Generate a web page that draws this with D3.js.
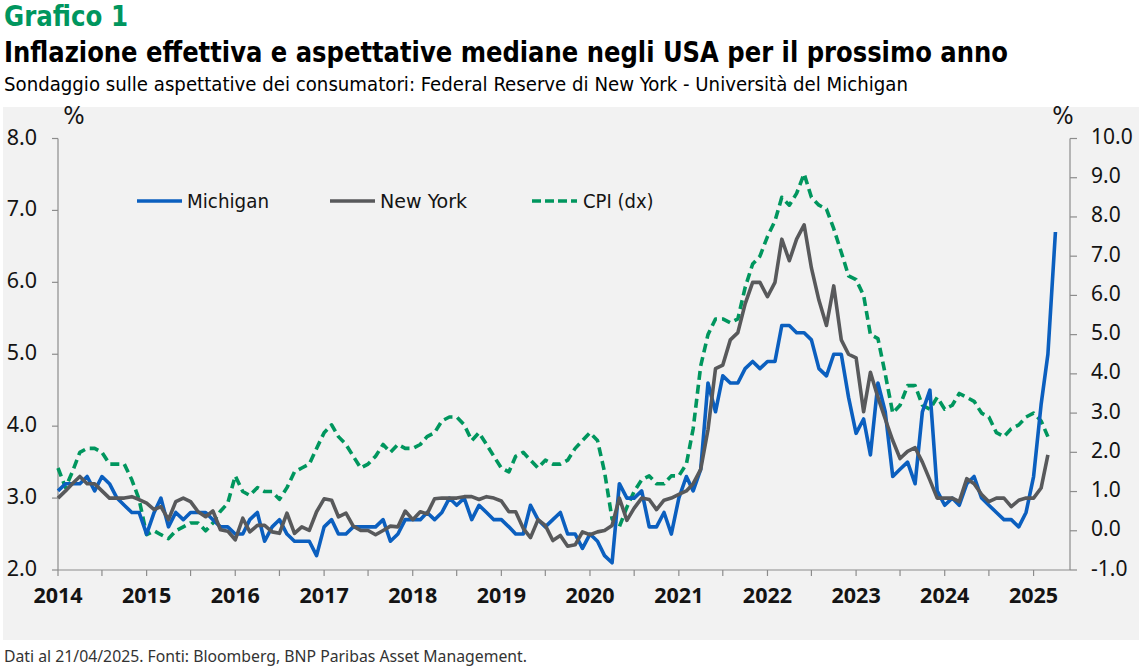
<!DOCTYPE html>
<html>
<head>
<meta charset="utf-8">
<script src="https://cdn.jsdelivr.net/npm/d3@7"></script>
<style>
  html, body { margin: 0; padding: 0; background: #fff; }
  svg { display: block; }
</style>
</head>
<body>
<svg id="chart" width="1139" height="668"></svg>
<script>
// ---- data (monthly, first value = Jan 2014) ----
const michigan = [
  3.1, 3.2, 3.2, 3.2, 3.3, 3.1, 3.3, 3.2, 3.0, 2.9, 2.8, 2.8,
  2.5, 2.8, 3.0, 2.6, 2.8, 2.7, 2.8, 2.8, 2.8, 2.7, 2.6, 2.6,
  2.5, 2.5, 2.7, 2.8, 2.4, 2.6, 2.7, 2.5, 2.4, 2.4, 2.4, 2.2,
  2.6, 2.7, 2.5, 2.5, 2.6, 2.6, 2.6, 2.6, 2.7, 2.4, 2.5, 2.7,
  2.7, 2.7, 2.8, 2.7, 2.8, 3.0, 2.9, 3.0, 2.7, 2.9, 2.8, 2.7,
  2.7, 2.6, 2.5, 2.5, 2.9, 2.7, 2.6, 2.7, 2.8, 2.5, 2.5, 2.3,
  2.5, 2.4, 2.2, 2.1, 3.2, 3.0, 3.0, 3.1, 2.6, 2.6, 2.8, 2.5,
  3.0, 3.3, 3.1, 3.4, 4.6, 4.2, 4.7, 4.6, 4.6, 4.8, 4.9, 4.8,
  4.9, 4.9, 5.4, 5.4, 5.3, 5.3, 5.2, 4.8, 4.7, 5.0, 5.0, 4.4,
  3.9, 4.1, 3.6, 4.6, 4.2, 3.3, 3.4, 3.5, 3.2, 4.2, 4.5, 3.1,
  2.9, 3.0, 2.9, 3.2, 3.3, 3.0, 2.9, 2.8, 2.7, 2.7, 2.6, 2.8,
  3.3, 4.3, 5.0, 6.7
];

const newYork = [
  3.0, 3.1, 3.2, 3.3, 3.2, 3.2, 3.1, 3.0, 3.0, 3.0, 3.02, 2.98,
  2.93, 2.84, 2.88, 2.7, 2.95, 3.0, 2.95, 2.81, 2.74, 2.82, 2.56, 2.54,
  2.42, 2.72, 2.53, 2.62, 2.62, 2.53, 2.51, 2.79, 2.51, 2.6, 2.55, 2.81,
  2.99, 2.97, 2.74, 2.79, 2.61, 2.55, 2.55, 2.49, 2.55, 2.61, 2.6, 2.82,
  2.7, 2.81, 2.78, 2.99, 3.0, 3.0, 3.0, 3.02, 3.02, 2.98, 3.02, 3.0,
  2.96, 2.81, 2.81, 2.58, 2.45, 2.7, 2.62, 2.41, 2.48, 2.33, 2.35, 2.53,
  2.49, 2.53, 2.55, 2.62, 3.0, 2.69, 2.86, 3.0, 2.98, 2.84, 2.97, 3.0,
  3.05, 3.1, 3.2, 3.4, 3.95, 4.8, 4.85, 5.2, 5.3, 5.7, 6.0, 6.0,
  5.8, 6.0, 6.6, 6.3, 6.6, 6.8, 6.2, 5.75, 5.4, 5.95, 5.2, 5.0,
  4.95, 4.2, 4.75, 4.4, 4.1, 3.8, 3.55, 3.65, 3.7, 3.5, 3.25, 3.0,
  3.0, 3.0, 2.95, 3.27, 3.2, 3.05, 2.95, 3.0, 3.0, 2.88, 2.97, 3.0,
  3.0, 3.14, 3.6
];

const cpi = [
  1.6, 1.1, 1.5, 2.0, 2.1, 2.1, 2.0, 1.7, 1.7, 1.7, 1.3, 0.8,
  -0.1, 0.0, -0.1, -0.2, 0.0, 0.1, 0.2, 0.2, 0.0, 0.2, 0.5, 0.7,
  1.4, 1.0, 0.9, 1.1, 1.0, 1.0, 0.8, 1.1, 1.5, 1.6, 1.7, 2.1,
  2.5, 2.7, 2.4, 2.2, 1.9, 1.6, 1.7, 1.9, 2.2, 2.0, 2.2, 2.1,
  2.1, 2.2, 2.4, 2.5, 2.8, 2.9, 2.9, 2.7, 2.3, 2.5, 2.2, 1.9,
  1.6, 1.5, 1.9, 2.0, 1.8, 1.6, 1.8, 1.7, 1.7, 1.8, 2.1, 2.3,
  2.5, 2.3, 1.5, 0.3, 0.1, 0.6, 1.0, 1.3, 1.4, 1.2, 1.2, 1.4,
  1.4, 1.7, 2.6, 4.2, 5.0, 5.4, 5.4, 5.3, 5.4, 6.2, 6.8, 7.0,
  7.5, 7.9, 8.5, 8.3, 8.6, 9.1, 8.5, 8.3, 8.2, 7.7, 7.1, 6.5,
  6.4, 6.0, 5.0, 4.9, 4.0, 3.0, 3.2, 3.7, 3.7, 3.2, 3.1, 3.4,
  3.1, 3.2, 3.5, 3.4, 3.3, 3.0, 2.9, 2.5, 2.4, 2.6, 2.7, 2.9,
  3.0, 2.8, 2.4
];

const yearTicks = d3.range(2014, 2026);
const leftTicks = [2.0, 3.0, 4.0, 5.0, 6.0, 7.0, 8.0];
const rightTicks = [-1.0, 0.0, 1.0, 2.0, 3.0, 4.0, 5.0, 6.0, 7.0, 8.0, 9.0, 10.0];

const series = [
  { key: "cpi", name: "CPI (dx)", values: cpi, axis: "right", color: "#00965e", dash: "9,5" },
  { key: "mich", name: "Michigan", values: michigan, axis: "left", color: "#0b5fbf", dash: null },
  { key: "ny", name: "New York", values: newYork, axis: "left", color: "#58595b", dash: null }
];
const legendOrder = ["mich", "ny", "cpi"];

// ---- layout ----
const svg = d3.select("#chart");
const W = 1139, H = 668;
const plot = { left: 58, right: 1070, top: 138.5, bottom: 570 };
const condensed = "'Liberation Sans Narrow', 'DejaVu Sans Condensed', 'Roboto Condensed', 'Noto Sans', sans-serif";
const tickFont = "'Noto Sans', 'Open Sans', 'DejaVu Sans', sans-serif";
const inkColor = "#141414";

const x = d3.scaleTime()
  .domain([new Date(2014, 0, 1), new Date(2025, 4, 31)])
  .range([plot.left, plot.right]);
const yL = d3.scaleLinear().domain([2, 8]).range([plot.bottom, plot.top]);
const yR = d3.scaleLinear().domain([-1, 10]).range([plot.bottom, plot.top]);

const monthDate = i => d3.timeMonth.offset(new Date(2014, 0, 1), i);

// fit a text element to a width
function fit(sel, width) {
  const len = sel.node().getComputedTextLength();
  if (len > 0 && Math.abs(len - width) > 1) {
    sel.attr("textLength", width).attr("lengthAdjust", "spacingAndGlyphs");
  }
  return sel;
}

// panel background
svg.append("rect")
  .attr("x", 3).attr("y", 107).attr("width", W - 3).attr("height", 533)
  .attr("fill", "#f2f2f2");

// ---- titles ----
fit(svg.append("text")
  .attr("x", 4).attr("y", 26)
  .attr("font-family", condensed).attr("font-weight", 700).attr("font-size", 28)
  .attr("fill", "#00965e")
  .text("Grafico 1"), 124);

fit(svg.append("text")
  .attr("x", 4).attr("y", 62)
  .attr("font-family", condensed).attr("font-weight", 700).attr("font-size", 29)
  .attr("fill", "#000")
  .text("Inflazione effettiva e aspettative mediane negli USA per il prossimo anno"), 1004);

fit(svg.append("text")
  .attr("x", 4).attr("y", 91)
  .attr("font-family", condensed).attr("font-size", 20)
  .attr("fill", "#000")
  .text("Sondaggio sulle aspettative dei consumatori: Federal Reserve di New York - Università del Michigan"), 904);

fit(svg.append("text")
  .attr("x", 4).attr("y", 662)
  .attr("font-family", tickFont).attr("font-size", 15.5)
  .attr("fill", "#333")
  .text("Dati al 21/04/2025. Fonti: Bloomberg, BNP Paribas Asset Management."), 523);

// ---- axes ----
const axisColor = "#8c8c8c";

const xAxis = svg.append("g").attr("transform", `translate(0,${plot.bottom})`);
xAxis.append("line")
  .attr("x1", plot.left).attr("x2", plot.right)
  .attr("stroke", axisColor).attr("stroke-width", 1.2);
const halfYears = d3.timeMonth.every(6).range(new Date(2014, 0, 1), new Date(2025, 6, 1));
xAxis.selectAll(".xt").data(halfYears).enter().append("line")
  .attr("x1", d => x(d)).attr("x2", d => x(d))
  .attr("y1", 0).attr("y2", 6)
  .attr("stroke", axisColor).attr("stroke-width", 1.2);
xAxis.selectAll(".xl").data(yearTicks).enter().append("text")
  .attr("x", d => x(new Date(d, 0, 1)))
  .attr("y", 33)
  .attr("text-anchor", "middle")
  .attr("font-family", tickFont).attr("font-weight", 700).attr("font-size", 21.5)
  .attr("fill", inkColor)
  .text(d => d);

const leftAxis = svg.append("g");
leftAxis.append("line")
  .attr("x1", plot.left).attr("x2", plot.left)
  .attr("y1", plot.top).attr("y2", plot.bottom)
  .attr("stroke", axisColor).attr("stroke-width", 1.2);
leftAxis.selectAll(".lt").data(leftTicks).enter().append("line")
  .attr("x1", plot.left - 6).attr("x2", plot.left)
  .attr("y1", d => yL(d)).attr("y2", d => yL(d))
  .attr("stroke", axisColor).attr("stroke-width", 1.2);
leftAxis.selectAll(".ll").data(leftTicks).enter().append("text")
  .attr("x", 37).attr("y", d => yL(d) + 6)
  .attr("text-anchor", "end")
  .attr("font-family", tickFont).attr("font-size", 21.5)
  .attr("fill", inkColor)
  .text(d => d.toFixed(1));

const rightAxis = svg.append("g");
rightAxis.append("line")
  .attr("x1", plot.right).attr("x2", plot.right)
  .attr("y1", plot.top).attr("y2", plot.bottom)
  .attr("stroke", axisColor).attr("stroke-width", 1.2);
rightAxis.selectAll(".rt").data(rightTicks).enter().append("line")
  .attr("x1", plot.right).attr("x2", plot.right + 7)
  .attr("y1", d => yR(d)).attr("y2", d => yR(d))
  .attr("stroke", axisColor).attr("stroke-width", 1.2);
rightAxis.selectAll(".rl").data(rightTicks).enter().append("text")
  .attr("x", 1091).attr("y", d => yR(d) + 5.5)
  .attr("text-anchor", "start")
  .attr("font-family", tickFont).attr("font-size", 21)
  .attr("fill", inkColor)
  .text(d => d.toFixed(1));

// unit labels
svg.append("text")
  .attr("x", 74).attr("y", 124).attr("text-anchor", "middle")
  .attr("font-family", condensed).attr("font-size", 25).attr("fill", inkColor)
  .text("%");
svg.append("text")
  .attr("x", 1063).attr("y", 124).attr("text-anchor", "middle")
  .attr("font-family", condensed).attr("font-size", 25).attr("fill", inkColor)
  .text("%");

// ---- lines ----
const lines = svg.append("g").attr("class", "lines");
series.forEach(s => {
  const yScale = s.axis === "left" ? yL : yR;
  const line = d3.line()
    .x((d, i) => x(monthDate(i)))
    .y(d => yScale(d));
  lines.append("path")
    .datum(s.values)
    .attr("d", line)
    .attr("fill", "none")
    .attr("stroke", s.color)
    .attr("stroke-width", 3.6)
    .attr("stroke-linejoin", "round")
    .attr("stroke-dasharray", s.dash);
});

// ---- legend ----
const legendPos = {
  mich: { x: 137, w: 82 },
  ny: { x: 330, w: 87 },
  cpi: { x: 532, w: 70 }
};
const legend = svg.append("g").attr("transform", "translate(0,201)");
legendOrder.forEach(k => {
  const s = series.find(d => d.key === k);
  const p = legendPos[k];
  legend.append("line")
    .attr("x1", p.x).attr("x2", p.x + 45)
    .attr("stroke", s.color).attr("stroke-width", 3.6)
    .attr("stroke-dasharray", s.dash ? "9,4" : null);
  fit(legend.append("text")
    .attr("x", p.x + (s.dash ? 51 : 50)).attr("y", 7)
    .attr("font-family", condensed).attr("font-size", 20)
    .attr("fill", inkColor)
    .text(s.name), p.w);
});
</script>
</body>
</html>
